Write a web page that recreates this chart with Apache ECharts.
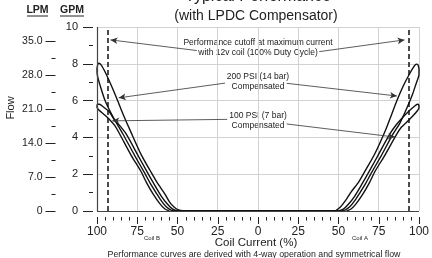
<!DOCTYPE html>
<html>
<head>
<meta charset="utf-8">
<script src="https://cdn.jsdelivr.net/npm/echarts@6/dist/echarts.min.js"></script>
<style>
html,body{margin:0;padding:0;background:#fff}
#chart{width:432px;height:258px}
</style>
</head>
<body>
<div id="chart"></div>
<script>
var FONT = '"Liberation Sans", Arial, Helvetica, sans-serif';

// coil current in %, coil B drawn as negative (left), coil A positive (right)
var xTicks = [-100, -75, -50, -25, 0, 25, 50, 75, 100];
var gpmTicks = [0, 2, 4, 6, 8, 10];
var gpmMinor = [1, 3, 5, 7, 9];
var lpmTicks = [0, 7, 14, 21, 28, 35];
var lpmMinor = [3.5, 10.5, 17.5, 24.5, 31.5];
var LPM_PER_GPM = 3.785;
var cutoff = [-93.5, 93.5];

// [current %, flow GPM] - hysteresis loops, up branch then back down
var coilB200 = [[-46,0],[-49,0.04],[-52,0.2],[-55,0.5],[-58,0.95],[-62.7,1.55],[-67,2.2],[-72.5,3.05],[-79,4.3],[-84,5.3],[-87.4,6.05],[-92,7.0],[-95.5,7.65],[-97.8,7.98],[-99,8.03],[-99.7,7.9],[-100,7.65],
  [-99.6,7.3],[-98,6.8],[-95,6.0],[-90,5.1],[-84,4.2],[-76.5,3.0],[-70,2.0],[-66.9,1.5],[-63,0.95],[-60,0.55],[-57,0.23],[-54,0.05],[-51,0]];
var coilB100 = [[-50,0],[-53,0.1],[-56,0.35],[-60,0.8],[-64.8,1.5],[-70,2.3],[-74.4,3.0],[-82,4.2],[-86,4.65],[-89.4,4.98],[-92.5,5.4],[-96,5.65],[-98.5,5.8],[-99.6,5.8],[-100,5.65],
  [-99,5.5],[-95.7,5.25],[-92,4.95],[-89,4.65],[-86,4.2],[-78.6,3.0],[-73,2.2],[-69,1.5],[-65,0.9],[-61,0.4],[-58,0.12],[-55,0]];
var coilA200 = [[48,0],[51,0.2],[55,0.65],[58,1.05],[62.7,1.6],[67,2.25],[72.5,3.1],[79,4.35],[83,5.25],[86.3,6.0],[90,6.75],[93.5,7.35],[96.5,7.8],[98.3,7.98],[99.3,7.95],[100,7.7],
  [100,7.4],[98.5,7.0],[96,6.35],[92,5.5],[88,4.75],[84,4.2],[76.5,3.0],[70,2.0],[66.9,1.5],[63,0.95],[60,0.55],[57,0.23],[54,0.05],[51,0]];
var coilA100 = [[50,0],[53,0.1],[56,0.35],[60,0.8],[64.8,1.5],[70,2.3],[74.4,3.0],[82,4.2],[86,4.7],[90,5.1],[94,5.45],[97,5.68],[99,5.8],[99.8,5.78],[100,5.6],
  [99,5.45],[96,5.15],[92,4.8],[89,4.55],[86,4.15],[78.6,3.0],[73,2.2],[69,1.5],[65,0.9],[61,0.4],[58,0.12],[55,0]];
var deadband = [[-50,0],[50,0]];

// annotation arrows: [from, to] in [current %, GPM]
var arrows = [
  [[-38,8.72],[-91.6,9.3]],
  [[38,8.66],[91,9.3]],
  [[-20.5,6.95],[-86.5,6.15]],
  [[17.8,6.94],[86.3,6.25]],
  [[-19.1,4.98],[-90.5,4.9]],
  [[17.8,4.73],[85.1,4.02]]
];

// minor x ticks every 5 %, between the labelled ones
var xMinor = [];
for (var i = 0; i < xTicks.length - 1; i++) {
  for (var k = 1; k < 5; k++) xMinor.push(xTicks[i] + k * 5);
}

var chart = echarts.init(document.getElementById('chart'));

var curveStyle = {color: '#111', width: 1.4};
function loop(data) {
  return {
    type: 'line', data: data, xAxisIndex: 0, yAxisIndex: 0,
    showSymbol: false, symbol: 'none', smooth: 0.25,
    lineStyle: curveStyle, silent: true
  };
}

var arrowData = arrows.map(function (a) {
  return [{coord: a[0]}, {coord: a[1]}];
});

var tickColor = '#222';
var noLine = {show: true, onZero: false, lineStyle: {color: 'rgba(0,0,0,0)'}};

function tickAxis(base, values, len) {
  // extra axis that only carries a set of ticks
  return Object.assign({
    type: 'value',
    axisLine: noLine,
    axisTick: {show: true, length: len, customValues: values, lineStyle: {color: tickColor, width: 1}},
    axisLabel: {show: false},
    splitLine: {show: false}
  }, base);
}

var xMin = xTicks[0], xMax = xTicks[xTicks.length - 1];
var gMax = gpmTicks[gpmTicks.length - 1];

function txt(x, y, s, font, extra) {
  return Object.assign({type: 'text', x: x, y: y,
    style: {text: s, font: font + ' ' + FONT, fill: '#222', align: 'center', verticalAlign: 'middle'}}, extra || {});
}

var texts = [
  txt(258, -3, 'Typical Performance', '16px'),
  txt(256, 16, '(with LPDC Compensator)', '14px'),
  txt(37.5, 10.5, 'LPM', 'bold 10.5px'),
  {type: 'line', shape: {x1: 27, y1: 16, x2: 48, y2: 16}, style: {stroke: '#222', lineWidth: 1}},
  txt(72, 10.5, 'GPM', 'bold 10.5px'),
  {type: 'line', shape: {x1: 60, y1: 16, x2: 84, y2: 16}, style: {stroke: '#222', lineWidth: 1}},
  txt(11, 108, 'Flow', '11px', {rotation: Math.PI / 2}),
  txt(258, 43, 'Performance cutoff at maximum current', '8.5px'),
  txt(258, 53, 'with 12v coil (100% Duty Cycle)', '8.5px'),
  txt(258, 77, '200 PSI (14 bar)', '8.5px'),
  txt(258, 86.5, 'Compensated', '8.5px'),
  txt(258, 116, '100 PSI (7 bar)', '8.5px'),
  txt(258, 125.5, 'Compensated', '8.5px'),
  txt(152, 238, 'Coil B', '6px'),
  txt(360, 238, 'Coil A', '6px'),
  txt(256, 243, 'Coil Current (%)', '11.5px'),
  txt(254, 255, 'Performance curves are derived with 4-way operation and symmetrical flow', '8.8px')
];

var option = {
  animation: false,
  backgroundColor: '#fff',
  textStyle: {fontFamily: FONT},
  grid: {left: 97, right: 13, top: 27, bottom: 47, show: false},
  xAxis: {
    type: 'value',
    min: xMin, max: xMax, interval: xTicks[1] - xTicks[0],
    position: 'bottom', offset: 6,
    axisLine: noLine,
    axisTick: {show: false},
    axisLabel: {color: '#222', fontSize: 12, fontFamily: FONT, margin: 9,
      formatter: function (v) { return String(Math.abs(v)); }},
    splitLine: {show: true, lineStyle: {color: '#d2d2d2', width: 1}}
  },
  yAxis: [{
    type: 'value', min: gpmTicks[0], max: gMax, interval: gpmTicks[1] - gpmTicks[0],
    position: 'left', offset: 4,
    axisLine: noLine,
    axisTick: {show: true, length: 10, lineStyle: {color: tickColor, width: 1}},
    axisLabel: {color: '#222', fontSize: 11, fontFamily: FONT, margin: 15},
    splitLine: {show: true, lineStyle: {color: '#d2d2d2', width: 1}}
  },
    tickAxis({min: gpmTicks[0], max: gMax, position: 'left', offset: 4}, gpmMinor, 4),
  {
    type: 'value', min: 0, max: gMax * LPM_PER_GPM,
    position: 'left', offset: 41.5,
    axisLine: noLine,
    axisTick: {show: true, length: 10, customValues: lpmTicks, lineStyle: {color: tickColor, width: 1}},
    axisLabel: {color: '#222', fontSize: 10.5, fontFamily: FONT, margin: 13, customValues: lpmTicks,
      formatter: function (v) { return v === 0 ? '0' : v.toFixed(1); }},
    splitLine: {show: false}
  },
    tickAxis({min: 0, max: gMax * LPM_PER_GPM, position: 'left', offset: 41.5}, lpmMinor, 4)
  ],
  series: [
    {
      type: 'line', data: deadband, showSymbol: false, symbol: 'none',
      lineStyle: curveStyle, silent: true,
      markLine: {
        silent: true, animation: false,
        symbol: ['none', 'none'],
        label: {show: false},
        lineStyle: {color: '#111', width: 1.5, type: [5, 3]},
        data: cutoff.map(function (c) { return {xAxis: c}; })
      }
    },
    {
      // dark left and bottom frame of the plot
      type: 'line', data: deadband, showSymbol: false, symbol: 'none',
      lineStyle: curveStyle, silent: true,
      markLine: {
        silent: true, animation: false,
        symbol: ['none', 'none'],
        label: {show: false},
        lineStyle: {color: '#444', width: 1.2, type: 'solid'},
        data: [{yAxis: gpmTicks[0]}, {xAxis: xMin}]
      }
    },
    {
      type: 'line', data: deadband, showSymbol: false, symbol: 'none',
      lineStyle: curveStyle, silent: true,
      markLine: {
        silent: true, animation: false,
        symbol: ['none', 'arrow'], symbolSize: [5, 7],
        label: {show: false},
        lineStyle: {color: '#333', width: 0.8, type: 'solid'},
        data: arrowData
      }
    },
    loop(coilB200), loop(coilB100), loop(coilA200), loop(coilA100)
  ],
  graphic: texts
};

chart.setOption(option);

// x-axis ticks placed through the chart's own x scale, 6px under the plot
var base = chart.convertToPixel({yAxisIndex: 0}, gpmTicks[0]) + 6;
function xTick(v, len) {
  var px = Math.round(chart.convertToPixel({xAxisIndex: 0}, v)) + 0.5;
  return {type: 'line', silent: true, shape: {x1: px, y1: base, x2: px, y2: base + len},
    style: {stroke: tickColor, lineWidth: 1}};
}
var ticks = xTicks.map(function (v) { return xTick(v, 7); })
  .concat(xMinor.map(function (v) { return xTick(v, 3.5); }));
chart.setOption({graphic: texts.concat(ticks)});
</script>
</body>
</html>
